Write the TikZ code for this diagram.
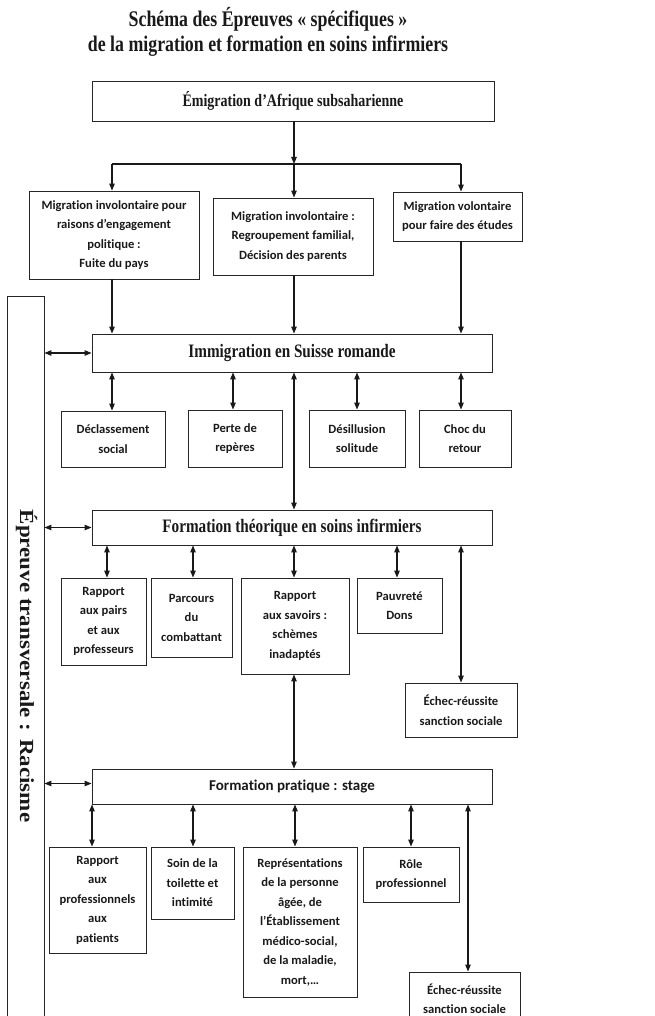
\documentclass[tikz,border=0pt]{standalone}
\usepackage{fontspec}
\usetikzlibrary{arrows.meta}
\newfontfamily\tnr[FakeStretch=0.8]{Liberation Serif}
\newfontfamily\tnrw[FakeStretch=1.15]{Liberation Serif}
\newfontfamily\calfont[Ligatures=NoCommon]{Carlito}
\begin{document}
\begin{tikzpicture}[x=1pt,y=-1pt,
  every node/.style={text=black!90},
  box/.style={draw=black!85, line width=0.9pt, inner sep=0pt, align=center,
    font={\calfont\bfseries\fontsize{12.6}{19.5}\selectfont}},
  mainbox/.style={draw=black!85, line width=0.9pt, inner sep=0pt, minimum width=400pt},
  tip/.tip={Triangle[length=7pt,width=5.5pt]},
  arr/.style={-tip, line width=1.1pt, draw=black!90},
  darr/.style={tip-tip, line width=1.1pt, draw=black!90},
  plain/.style={line width=1.1pt, draw=black!90}]
\useasboundingbox (0,0) rectangle (655,1016);

% title
\node[font={\tnr\bfseries\fontsize{22.3}{25}\selectfont}, anchor=base] (title1) at (268,27) {Schéma des Épreuves «~spécifiques~»};
\node[font={\tnr\bfseries\fontsize{22.3}{25}\selectfont}, anchor=base] (title2) at (268,52) {de la migration et formation en soins infirmiers};

% main boxes
\node[mainbox, minimum width=402pt, minimum height=40pt, font={\tnr\bfseries\fontsize{17.5}{20}\selectfont}] (top) at (293,101) {Émigration d’Afrique subsaharienne};
\node[mainbox, minimum height=38pt, font={\tnr\bfseries\fontsize{19}{20}\selectfont}] (imm) at (292,353) {Immigration en Suisse romande};
\node[mainbox, minimum height=35pt, font={\tnr\bfseries\fontsize{19}{20}\selectfont}] (theo) at (292,527.5) {Formation théorique en soins infirmiers};
\node[mainbox, minimum height=35pt, font={\calfont\bfseries\fontsize{15}{18}\selectfont}] (prat) at (292,786.5) {Formation pratique : stage};

% side box
\node[draw=black!85, line width=0.9pt, minimum width=37pt, minimum height=744pt, inner sep=0pt] (side) at (25.5,668) {};
\node[rotate=-90, font={\tnrw\bfseries\fontsize{20}{20}\selectfont}] (sidetext) at (26.5,666) {Épreuve transversale : Racisme};

% migration boxes
\node[box, minimum width=170pt, minimum height=88pt] (mig1) at (114,235) {Migration involontaire pour\\raisons d’engagement\\politique :\\Fuite du pays};
\node[box, minimum width=160pt, minimum height=77pt] (mig2) at (293,236.5) {Migration involontaire :\\Regroupement familial,\\Décision des parents};
\node[box, minimum width=129pt, minimum height=49pt] (mig3) at (457.5,216.5) {Migration volontaire\\pour faire des études};

% immigration children
\node[box, minimum width=104pt, minimum height=56pt] (d1) at (113,439) {Déclassement\\social};
\node[box, minimum width=94pt, minimum height=57pt] (d2) at (235,438.5) {Perte de\\repères};
\node[box, minimum width=96pt, minimum height=57pt] (d3) at (357,438.5) {Désillusion\\solitude};
\node[box, minimum width=92pt, minimum height=57pt] (d4) at (465,438.5) {Choc du\\retour};

% theory children
\node[box, minimum width=85pt, minimum height=87pt] (t1) at (103.5,621.5) {Rapport\\aux pairs\\et aux\\professeurs};
\node[box, minimum width=81pt, minimum height=79pt] (t2) at (191.5,617.5) {Parcours\\du\\combattant};
\node[box, minimum width=108pt, minimum height=96pt] (t3) at (295,626) {Rapport\\aux savoirs :\\schèmes\\inadaptés};
\node[box, minimum width=85pt, minimum height=55pt] (t4) at (399.5,605.5) {Pauvreté\\Dons};
\node[box, minimum width=112pt, minimum height=54pt] (t5) at (461,710) {Échec-réussite\\sanction sociale};

% practice children
\node[box, minimum width=97pt, minimum height=106pt] (p1) at (97.5,900) {Rapport\\aux\\professionnels\\aux\\patients};
\node[box, minimum width=83pt, minimum height=72pt] (p2) at (192.5,883) {Soin de la\\toilette et\\intimité};
\node[box, minimum width=114pt, minimum height=150pt] (p3) at (300,922) {Représentations\\de la personne\\âgée, de\\l’Établissement\\médico-social,\\de la maladie,\\mort,…};
\node[box, minimum width=96pt, minimum height=55pt] (p4) at (411,874.5) {Rôle\\professionnel};
\node[box, minimum width=111pt, minimum height=53pt] (p5) at (464.5,998.5) {Échec-réussite\\sanction sociale};

% connectors from top
\coordinate (jM) at (294,164);
\coordinate (jL) at (112,164);
\coordinate (jR) at (461,164);
\draw[arr] (top.south -| jM) -- (jM);
\draw[plain] (jL) -- (jR);
\draw[arr] (jL) -- (mig1.north -| jL);
\draw[arr] (jM) -- (mig2.north -| jM);
\draw[arr] (jR) -- (mig3.north -| jR);

\draw[arr] (mig1.south -| jL) -- (imm.north -| jL);
\draw[arr] (mig2.south -| jM) -- (imm.north -| jM);
\draw[arr] (mig3.south -| jR) -- (imm.north -| jR);

% side arrows
\draw[darr] (side.east |- imm.west) -- (imm.west);
\draw[darr] (side.east |- theo.west) -- (theo.west);
\draw[darr] ([yshift=3pt]side.east |- prat.west) -- ([yshift=3pt]prat.west);

% immigration links
\draw[darr] ([xshift=-1pt]d1.north |- imm.south) -- ([xshift=-1pt]d1.north);
\draw[darr] ([xshift=-2pt]d2.north |- imm.south) -- ([xshift=-2pt]d2.north);
\draw[darr] (d3.north |- imm.south) -- (d3.north);
\draw[darr] ([xshift=-4pt]d4.north |- imm.south) -- ([xshift=-4pt]d4.north);
\draw[darr] (imm.south -| jM) -- (theo.north -| jM);

% theory links
\draw[darr] ([xshift=3.5pt]t1.north |- theo.south) -- ([xshift=3.5pt]t1.north);
\draw[darr] ([xshift=1.5pt]t2.north |- theo.south) -- ([xshift=1.5pt]t2.north);
\draw[darr] ([xshift=-1pt]t3.north |- theo.south) -- ([xshift=-1pt]t3.north);
\draw[darr] ([xshift=-2.5pt]t4.north |- theo.south) -- ([xshift=-2.5pt]t4.north);
\draw[darr] (t5.north |- theo.south) -- (t5.north);
\draw[darr] ([xshift=-1pt]t3.south) -- ([xshift=-1pt]t3.south |- prat.north);

% practice links
\draw[darr] ([xshift=-5.5pt]p1.north |- prat.south) -- ([xshift=-5.5pt]p1.north);
\draw[darr] ([xshift=0.5pt]p2.north |- prat.south) -- ([xshift=0.5pt]p2.north);
\draw[darr] ([xshift=-5pt]p3.north |- prat.south) -- ([xshift=-5pt]p3.north);
\draw[darr] (p4.north |- prat.south) -- (p4.north);
\draw[darr] ([xshift=3.5pt]p5.north |- prat.south) -- ([xshift=3.5pt]p5.north);
\end{tikzpicture}
\end{document}
